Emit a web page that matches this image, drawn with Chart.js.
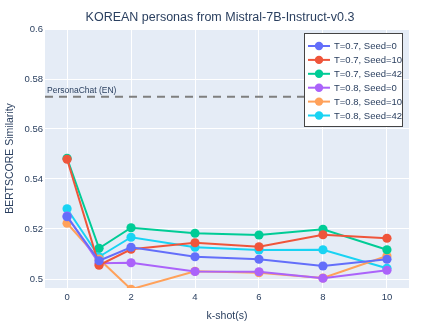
<!DOCTYPE html>
<html>
<head>
<meta charset="utf-8">
<script src="https://cdn.jsdelivr.net/npm/chart.js@4.4.1/dist/chart.umd.min.js"></script>
<style>
  html, body { margin: 0; padding: 0; background: #fff; }
  #wrap { width: 439px; height: 329px; }
</style>
</head>
<body>
<div id="wrap"><canvas id="c"></canvas></div>
<script>
// Data
const kShots = [0, 1, 2, 4, 6, 8, 10];
const seriesLabels = ['T=0.7, Seed=0', 'T=0.7, Seed=10', 'T=0.7, Seed=42', 'T=0.8, Seed=0', 'T=0.8, Seed=10', 'T=0.8, Seed=42'];
const t07seed0  = [0.5249, 0.5073, 0.5127, 0.5089, 0.5079, 0.5052, 0.5079];
const t07seed10 = [0.5479, 0.5055, 0.5119, 0.5145, 0.5129, 0.5177, 0.5163];
const t07seed42 = [0.5483, 0.5123, 0.5205, 0.5183, 0.5176, 0.5199, 0.5117];
const t08seed0  = [0.5252, 0.5063, 0.5065, 0.5030, 0.5029, 0.5003, 0.5035];
const t08seed10 = [0.5223, 0.5080, 0.4959, 0.5031, 0.5025, 0.5004, 0.5092];
const t08seed42 = [0.5281, 0.5089, 0.5167, 0.5127, 0.5116, 0.5117, 0.5043];
const xTicks = [0, 2, 4, 6, 8, 10];
const yTicks = [0.5, 0.52, 0.54, 0.56, 0.58, 0.6];
const yTickLabels = ['0.5', '0.52', '0.54', '0.56', '0.58', '0.6'];
const baselineValue = 0.5729;
const baselineLabel = 'PersonaChat (EN)';
const titleText = 'KOREAN personas from Mistral-7B-Instruct-v0.3';

const COLORS = ['#636efa', '#EF553B', '#00cc96', '#ab63fa', '#FFA15A', '#19d3f3'];
const FONT = '"Liberation Sans", Arial, sans-serif';
const INK = '#2a3f5f';

const allSeries = [t07seed0, t07seed10, t07seed42, t08seed0, t08seed10, t08seed42];

const datasets = allSeries.map((vals, i) => ({
    label: seriesLabels[i],
    data: kShots.map((k, j) => ({ x: k, y: vals[j] })),
    borderColor: COLORS[i],
    backgroundColor: COLORS[i],
    pointBackgroundColor: COLORS[i],
    pointBorderWidth: 0,
    pointRadius: 4.6,
    borderWidth: 2,
    tension: 0,
    clip: 0,
}));

// Plot background, dashed reference line, titles and the floating legend
const decor = {
    id: 'decor',
    beforeDraw(chart) {
        const { ctx, chartArea: a } = chart;
        ctx.save();
        ctx.fillStyle = '#E5ECF6';
        ctx.fillRect(a.left, a.top, a.right - a.left, a.bottom - a.top);
        ctx.restore();
    },
    afterDatasetsDraw(chart) {
        const { ctx, chartArea: a, scales } = chart;
        const y = scales.y.getPixelForValue(baselineValue);
        ctx.save();
        ctx.strokeStyle = '#7f7f7f';
        ctx.lineWidth = 2;
        ctx.setLineDash([8, 6]);
        ctx.beginPath();
        ctx.moveTo(a.left, y);
        ctx.lineTo(a.right, y);
        ctx.stroke();
        ctx.setLineDash([]);
        ctx.fillStyle = INK;
        ctx.font = '8.5px ' + FONT;
        ctx.textAlign = 'left';
        ctx.textBaseline = 'alphabetic';
        ctx.fillText(baselineLabel, a.left + 2, y - 4);
        ctx.restore();
    },
    afterDraw(chart) {
        const { ctx, chartArea: a } = chart;
        ctx.save();
        // title
        ctx.fillStyle = INK;
        ctx.font = '12.5px ' + FONT;
        ctx.textAlign = 'center';
        ctx.textBaseline = 'middle';
        ctx.fillText(titleText, 220, 18);
        // axis titles
        ctx.font = '10.5px ' + FONT;
        ctx.fillText('k-shot(s)', (a.left + a.right) / 2, 316);
        ctx.translate(10, (a.top + a.bottom) / 2);
        ctx.rotate(-Math.PI / 2);
        ctx.fillText('BERTSCORE Similarity', 0, 0);
        ctx.restore();

        // legend box
        ctx.save();
        const bx = 304.5, by = 33.5, bw = 98, bh = 93;
        ctx.fillStyle = '#ffffff';
        ctx.fillRect(bx, by, bw, bh);
        ctx.strokeStyle = '#444444';
        ctx.lineWidth = 1;
        ctx.strokeRect(bx, by, bw, bh);
        ctx.font = '9.5px ' + FONT;
        ctx.textAlign = 'left';
        ctx.textBaseline = 'middle';
        chart.data.datasets.forEach((ds, i) => {
            const cy = 46 + i * 13.9;
            ctx.strokeStyle = ds.borderColor;
            ctx.lineWidth = 2;
            ctx.beginPath();
            ctx.moveTo(308, cy);
            ctx.lineTo(330, cy);
            ctx.stroke();
            ctx.fillStyle = ds.borderColor;
            ctx.beginPath();
            ctx.arc(319, cy, 4.2, 0, Math.PI * 2);
            ctx.fill();
            ctx.fillStyle = INK;
            ctx.fillText(ds.label, 334, cy + 0.5);
        });
        ctx.restore();
    }
};

new Chart(document.getElementById('c'), {
    type: 'line',
    data: { datasets },
    plugins: [decor],
    options: {
        responsive: true,
        maintainAspectRatio: false,
        animation: false,
        layout: { padding: { top: 29, right: 30, left: 0, bottom: 0 } },
        plugins: {
            legend: { display: false },
            title: { display: false },
            tooltip: { enabled: false },
        },
        scales: {
            x: {
                type: 'linear',
                min: -0.69,
                max: 10.69,
                afterBuildTicks: (s) => { s.ticks = xTicks.map(v => ({ value: v })); },
                afterFit: (s) => { s.height = 41; },
                grid: { color: '#ffffff', lineWidth: 1, drawTicks: false },
                border: { display: false },
                ticks: { color: INK, font: { family: FONT, size: 9.5 }, padding: 4, maxRotation: 0 },
            },
            y: {
                type: 'linear',
                min: 0.4964,
                max: 0.6,
                afterBuildTicks: (s) => { s.ticks = yTicks.map(v => ({ value: v })); },
                afterFit: (s) => { s.width = 45; },
                grid: { color: '#ffffff', lineWidth: 1, drawTicks: false },
                border: { display: false },
                ticks: {
                    color: INK,
                    font: { family: FONT, size: 9.5 },
                    padding: 2,
                    callback: (v) => yTickLabels[yTicks.indexOf(v)] ?? '',
                },
            },
        },
    },
});
</script>
</body>
</html>
